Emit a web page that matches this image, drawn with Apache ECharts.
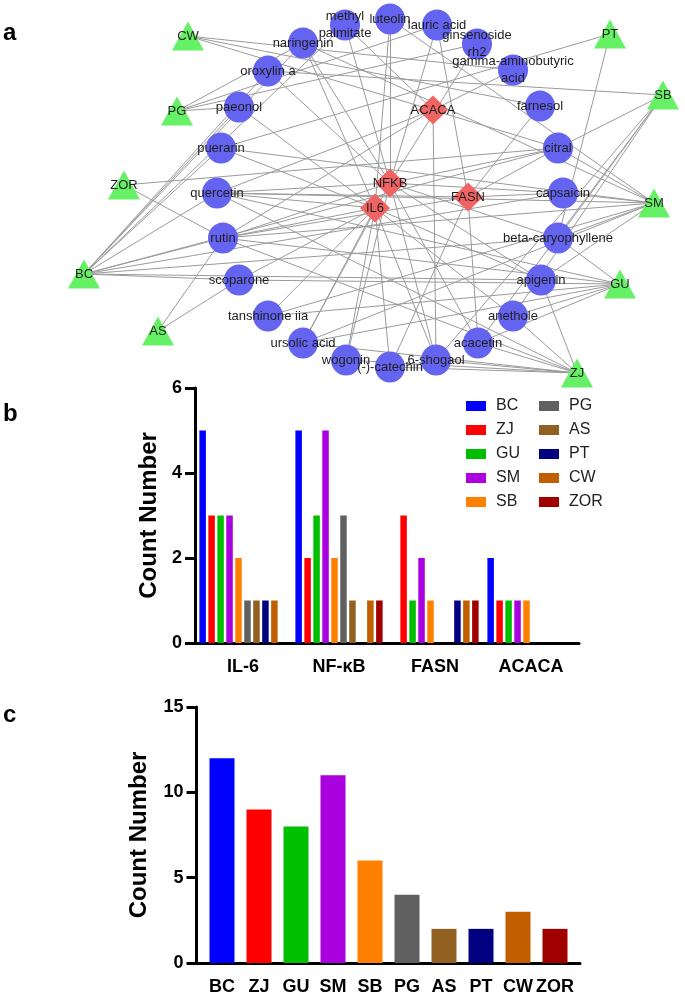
<!DOCTYPE html>
<html><head><meta charset="utf-8">
<script src="https://cdn.jsdelivr.net/npm/echarts/dist/echarts.min.js"></script>
<style>html,body{margin:0;padding:0;background:#fff}#c{width:685px;height:996px}</style>
</head><body><div id="c"></div>
<script>
// ---------- bar chart data ----------
const herbs = ['BC','ZJ','GU','SM','SB','PG','AS','PT','CW','ZOR'];
const herbColors = ['#0000FF','#FF0000','#00BF00','#AA00E0','#FF8000','#606060','#926020','#000080','#C05E00','#A00000'];
const targets = ['IL-6','NF-κB','FASN','ACACA'];
const countIL6   = [5,3,3,3,2,1,1,1,1,0];
const countNFKB  = [5,2,3,5,2,3,1,0,1,1];
const countFASN  = [0,3,1,2,1,0,0,1,1,1];
const countACACA = [2,1,1,1,1,0,0,0,0,0];
const herbTotals = [12,9,8,11,6,4,2,2,3,2];

// ---------- network data ----------
const compoundNames = ['luteolin','lauric acid','ginsenoside rh2','gamma-aminobutyric acid','farnesol','citral',
  'capsaicin','beta-caryophyllene','apigenin','anethole','acacetin','6-shogaol','(-)-catechin','wogonin',
  'ursolic acid','tanshinone iia','scoparone','rutin','quercetin','puerarin','paeonol','oroxylin a','naringenin','methyl palmitate'];
const compoundX = [390,437,477,513,540,558,563,558,541,513,478,436,390,346,303,268,239,223,217,221,239,268,303,345];
const compoundY = [19,25,44,70,106,148,193,238,280,316,343,360,367,360,343,316,280,238,193,148,107,71,43,25];
const herbX = [84,577,620,654,663,177,158,610,188,124];
const herbY = [274,373,284,203,95,111,331,34,36,185];
const targetNodes = ['ACACA','NFKB','IL6','FASN'];
const targetX = [433,390,375,468];
const targetY = [110,183,208,197];
const herbCompoundLinks = [
  ['BC','puerarin'],['BC','paeonol'],['BC','oroxylin a'],['BC','naringenin'],['BC','methyl palmitate'],['BC','quercetin'],
  ['BC','rutin'],['BC','scoparone'],['BC','capsaicin'],['BC','beta-caryophyllene'],['BC','apigenin'],['BC','citral'],
  ['ZJ','wogonin'],['ZJ','(-)-catechin'],['ZJ','6-shogaol'],['ZJ','acacetin'],['ZJ','anethole'],['ZJ','apigenin'],
  ['ZJ','rutin'],['ZJ','quercetin'],['ZJ','ursolic acid'],
  ['GU','rutin'],['GU','scoparone'],['GU','quercetin'],['GU','beta-caryophyllene'],['GU','anethole'],['GU','ursolic acid'],
  ['GU','acacetin'],['GU','tanshinone iia'],
  ['SM','quercetin'],['SM','rutin'],['SM','puerarin'],['SM','capsaicin'],['SM','beta-caryophyllene'],['SM','apigenin'],
  ['SM','tanshinone iia'],['SM','ursolic acid'],['SM','luteolin'],['SM','citral'],['SM','naringenin'],
  ['SB','oroxylin a'],['SB','citral'],['SB','beta-caryophyllene'],['SB','anethole'],['SB','acacetin'],['SB','6-shogaol'],
  ['PG','naringenin'],['PG','ginsenoside rh2'],['PG','lauric acid'],['PG','paeonol'],
  ['AS','rutin'],['AS','scoparone'],
  ['PT','puerarin'],['PT','beta-caryophyllene'],
  ['CW','farnesol'],['CW','gamma-aminobutyric acid'],['CW','citral'],
  ['ZOR','citral'],['ZOR','rutin']
];
const targetCompoundLinks = [
  ['IL6','quercetin'],['IL6','rutin'],['IL6','luteolin'],['IL6','wogonin'],['IL6','ursolic acid'],['IL6','tanshinone iia'],
  ['IL6','(-)-catechin'],['IL6','apigenin'],['IL6','paeonol'],['IL6','puerarin'],['IL6','scoparone'],['IL6','6-shogaol'],
  ['IL6','naringenin'],['IL6','anethole'],
  ['NFKB','quercetin'],['NFKB','luteolin'],['NFKB','methyl palmitate'],['NFKB','apigenin'],['NFKB','beta-caryophyllene'],
  ['NFKB','ursolic acid'],['NFKB','capsaicin'],['NFKB','6-shogaol'],['NFKB','acacetin'],['NFKB','naringenin'],
  ['NFKB','rutin'],['NFKB','wogonin'],['NFKB','citral'],['NFKB','ginsenoside rh2'],['NFKB','lauric acid'],['NFKB','oroxylin a'],
  ['FASN','citral'],['FASN','capsaicin'],['FASN','farnesol'],['FASN','lauric acid'],['FASN','acacetin'],
  ['FASN','(-)-catechin'],['FASN','quercetin'],['FASN','rutin'],
  ['ACACA','gamma-aminobutyric acid'],['ACACA','quercetin'],['ACACA','rutin'],['ACACA','6-shogaol'],['ACACA','methyl palmitate']
];
const labelBreaks = {'methyl palmitate':'methyl\npalmitate','ginsenoside rh2':'ginsenoside\nrh2','gamma-aminobutyric acid':'gamma-aminobutyric\nacid'};

const FONT = 'Liberation Sans, Arial, sans-serif';
const nodes = [];
const idx = {};
const labelBase = {show:true, position:'inside', color:'#1e1e1e', fontSize:13, fontFamily:FONT, lineHeight:17};
compoundNames.forEach((n,i)=>{
  idx[n]=nodes.length;
  nodes.push({name:n, value:[compoundX[i],compoundY[i]], symbol:'circle', symbolSize:[30,31],
    itemStyle:{color:'#6464F0'}, label:Object.assign({}, labelBase, {formatter: labelBreaks[n] || n})});
});
targetNodes.forEach((n,i)=>{
  idx[n]=nodes.length;
  nodes.push({name:n, value:[targetX[i],targetY[i]], symbol:'diamond', symbolSize:[30,29],
    itemStyle:{color:'#F06464'}, label:Object.assign({}, labelBase)});
});
herbs.forEach((n,i)=>{
  idx['herb_'+n]=nodes.length;
  nodes.push({name:'herb_'+n, value:[herbX[i],herbY[i]], symbol:'triangle', symbolSize:[32,29],
    itemStyle:{color:'#66F066'}, label:Object.assign({}, labelBase, {formatter:n})});
});
const links = [];
herbCompoundLinks.forEach(p=>links.push({source:idx['herb_'+p[0]], target:idx[p[1]]}));
targetCompoundLinks.forEach(p=>links.push({source:idx[p[0]], target:idx[p[1]]}));

const axisBlack = {color:'#000', width:3};
const tickLabel = {color:'#000', fontSize:18, fontWeight:'bold', fontFamily:FONT};

const barSeries = herbs.map((h,i)=>({
  name:h, type:'bar', xAxisIndex:1, yAxisIndex:1,
  data:[countIL6[i],countNFKB[i],countFASN[i],countACACA[i]],
  itemStyle:{color:herbColors[i]}, barWidth:6.5, barGap:'38%'
}));

const chart = echarts.init(document.getElementById('c'), null, {renderer:'canvas'});
chart.setOption({
  animation:false,
  textStyle:{fontFamily:FONT},
  title:[
    {text:'a', left:3, top:21, padding:0, textStyle:{fontSize:24, fontWeight:'bold', color:'#000', fontFamily:FONT}},
    {text:'b', left:3, top:402, padding:0, textStyle:{fontSize:24, fontWeight:'bold', color:'#000', fontFamily:FONT}},
    {text:'c', left:3, top:703, padding:0, textStyle:{fontSize:24, fontWeight:'bold', color:'#000', fontFamily:FONT}}
  ],
  legend:[
    {data:herbs.slice(0,5), left:466, top:398, orient:'vertical', icon:'rect', itemWidth:20, itemHeight:10, itemGap:8,
     padding:0, selectedMode:false, textStyle:{fontSize:16, color:'#222', fontFamily:FONT, padding:[0,0,0,5]}},
    {data:herbs.slice(5), left:539, top:398, orient:'vertical', icon:'rect', itemWidth:20, itemHeight:10, itemGap:8,
     padding:0, selectedMode:false, textStyle:{fontSize:16, color:'#222', fontFamily:FONT, padding:[0,0,0,5]}}
  ],
  grid:[
    {left:0, top:0, width:685, height:385},
    {left:195, top:388, width:384, height:255},
    {left:203.5, top:707, width:370, height:256},
    {left:196, top:707, width:384, height:256}
  ],
  xAxis:[
    {gridIndex:0, type:'value', min:0, max:685, show:false},
    {gridIndex:1, type:'category', data:targets,
     axisLine:{lineStyle:axisBlack}, axisTick:{alignWithLabel:true, length:11, lineStyle:axisBlack},
     axisLabel:Object.assign({margin:15}, tickLabel)},
    {gridIndex:2, type:'category', data:herbs,
     axisLine:{lineStyle:axisBlack}, axisTick:{alignWithLabel:true, length:11, lineStyle:axisBlack},
     axisLabel:Object.assign({margin:15, interval:0}, tickLabel)},
    {gridIndex:3, type:'value', min:0, max:1, axisLine:{show:true, lineStyle:axisBlack},
     axisTick:{show:false}, axisLabel:{show:false}, splitLine:{show:false}}
  ],
  yAxis:[
    {gridIndex:0, type:'value', min:0, max:385, inverse:true, show:false},
    {gridIndex:1, type:'value', min:0, max:6, interval:2,
     axisLine:{show:true, lineStyle:axisBlack}, axisTick:{show:true, length:10, lineStyle:axisBlack},
     splitLine:{show:false}, axisLabel:Object.assign({margin:13}, tickLabel),
     name:'Count Number', nameLocation:'middle', nameGap:34,
     nameTextStyle:{fontSize:24, fontWeight:'bold', color:'#000', fontFamily:FONT}},
    {gridIndex:2, type:'value', min:0, max:15, interval:5, offset:7,
     axisLine:{show:true, lineStyle:axisBlack}, axisTick:{show:true, length:10, lineStyle:axisBlack},
     splitLine:{show:false}, axisLabel:Object.assign({margin:13}, tickLabel),
     name:'Count Number', nameLocation:'middle', nameGap:45,
     nameTextStyle:{fontSize:24, fontWeight:'bold', color:'#000', fontFamily:FONT}},
    {gridIndex:3, type:'value', min:0, max:1, show:false}
  ],
  series:[
    {type:'graph', coordinateSystem:'cartesian2d', xAxisIndex:0, yAxisIndex:0,
     data:nodes, links:links, silent:true, z:3,
     lineStyle:{color:'#9a9a9a', width:1, opacity:1, curveness:0},
     emphasis:{disabled:true}},
    ...barSeries,
    {name:'Total', type:'bar', xAxisIndex:2, yAxisIndex:2, barWidth:25,
     data:herbTotals.map((v,i)=>({value:v, itemStyle:{color:herbColors[i]}}))}
  ]
});
</script></body></html>
